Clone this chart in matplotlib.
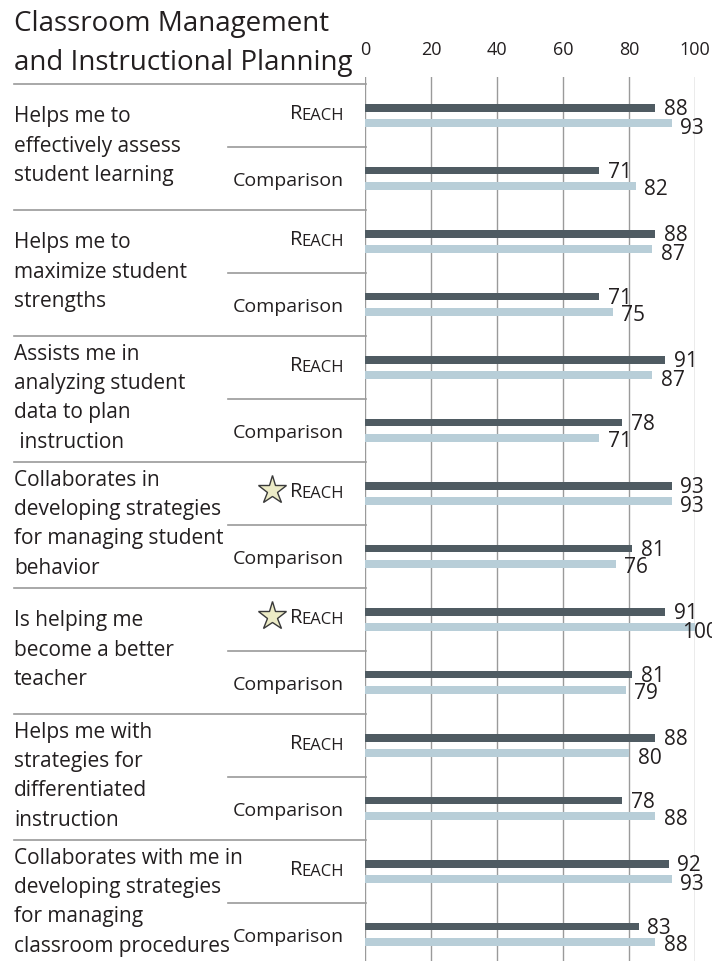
import matplotlib
matplotlib.use("Agg")
import matplotlib.pyplot as plt
from matplotlib.transforms import blended_transform_factory

plt.rcParams['font.family'] = ['Open Sans', 'DejaVu Sans']

title_lines = ["Classroom Management", "and Instructional Planning"]
categories = [
    "Helps me to\neffectively assess\nstudent learning",
    "Helps me to\nmaximize student\nstrengths",
    "Assists me in\nanalyzing student\ndata to plan\n instruction",
    "Collaborates in\ndeveloping strategies\nfor managing student\nbehavior",
    "Is helping me\nbecome a better\nteacher",
    "Helps me with\nstrategies for\ndifferentiated\ninstruction",
    "Collaborates with me in\ndeveloping strategies\nfor managing\nclassroom procedures",
]
reach_a = [88, 88, 91, 93, 91, 88, 92]
reach_b = [93, 87, 87, 93, 100, 80, 93]
comp_a = [71, 71, 78, 81, 81, 78, 83]
comp_b = [82, 75, 71, 76, 79, 88, 88]
starred = [False, False, False, True, True, False, False]
row_labels = ["REACH", "Comparison"]
ticks = [0, 20, 40, 60, 80, 100]

DARK = '#4f5b62'
LIGHT = '#b8ced8'
GRID = '#9a9a9a'
TXT = '#231f20'

W, H = 712, 962
fig = plt.figure(figsize=(W / 100, H / 100), dpi=100)
ax = fig.add_axes([365 / W, 1 - 967 / H, 330 / W, (967 - 78) / H])

n = len(categories)
for i in range(n):
    ax.barh(i + 0.188, reach_a[i], height=0.062, color=DARK, zorder=3)
    ax.barh(i + 0.312, reach_b[i], height=0.062, color=LIGHT, zorder=3)
    ax.barh(i + 0.686, comp_a[i], height=0.062, color=DARK, zorder=3)
    ax.barh(i + 0.812, comp_b[i], height=0.062, color=LIGHT, zorder=3)
    for y, v, dy in [(i + 0.188, reach_a[i], 0.005), (i + 0.312, reach_b[i], 0.035),
                     (i + 0.686, comp_a[i], 0.01), (i + 0.812, comp_b[i], 0.02)]:
        ax.text(min(v + 2.6, 96.0), y + dy, str(v), ha='left', va='center',
                fontsize=15, color=TXT, zorder=4, clip_on=False)

ax.set_xlim(0, 100)
ax.set_ylim(n, -7 / 126)
for s in ax.spines.values():
    s.set_visible(False)
ax.set_yticks([])
ax.xaxis.tick_top()
ax.set_xticks(ticks)
ax.set_xticklabels([str(t) for t in ticks])
ax.tick_params(axis='x', length=0, pad=14, labelsize=13, labelcolor=TXT)
ax.grid(axis='x', color=GRID, lw=1)
ax.set_axisbelow(True)

trans = blended_transform_factory(fig.transFigure, ax.transData)
for i in range(n):
    ax.plot([14 / W, 366 / W], [i, i], color=GRID, lw=1.2, transform=trans, clip_on=False)
    ax.plot([228 / W, 366 / W], [i + 0.5, i + 0.5], color=GRID, lw=1.2, transform=trans, clip_on=False)
    ax.text(14 / W, i + 0.485, categories[i], transform=trans, ha='left', va='center',
            fontsize=15.0, linespacing=1.52, color=TXT)
    ax.text(344 / W, i + 0.80, row_labels[1], transform=trans, ha='right', va='baseline',
            fontsize=14, color=TXT)
    each = ax.text(344 / W, i + 0.275, row_labels[0][1:], transform=trans, ha='right',
                   va='baseline', fontsize=12, color=TXT)
    ax.annotate(row_labels[0][0], xy=(0, 0), xycoords=each, ha='right', va='bottom',
                xytext=(0.3, 0), textcoords='offset points', fontsize=14.5, color=TXT)
    if starred[i]:
        ax.plot([272 / W], [i + 0.225], marker='*', markersize=21, mfc='#ecebc6',
                mec='#3a3a3a', mew=1.0, transform=trans, clip_on=False)

fig.text(14 / W, 1 - 24 / H, title_lines[0], ha='left', va='center', fontsize=20, color=TXT)
fig.text(14 / W, 1 - 63 / H, title_lines[1], ha='left', va='center', fontsize=20, color=TXT)

fig.savefig('out.png', dpi=100)
